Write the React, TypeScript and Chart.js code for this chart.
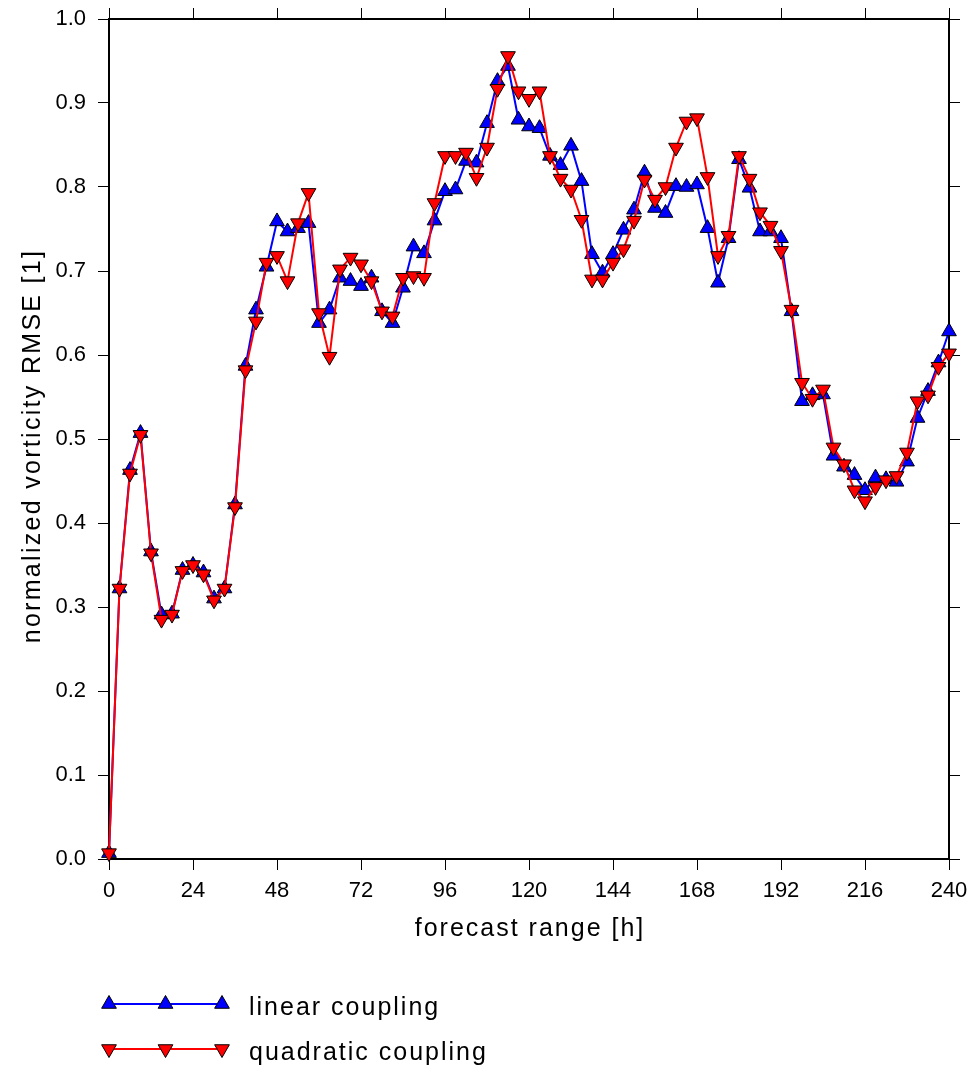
import React, { useEffect, useRef } from 'react';
import { Chart, registerables } from 'chart.js';
import { drawPoint } from 'chart.js/helpers';

Chart.register(...registerables);

const HOURS = [
  0, 3, 6, 9, 12, 15, 18, 21, 24, 27, 30, 33, 36, 39, 42, 45, 48, 51, 54, 57,
  60, 63, 66, 69, 72, 75, 78, 81, 84, 87, 90, 93, 96, 99, 102, 105, 108, 111, 114, 117,
  120, 123, 126, 129, 132, 135, 138, 141, 144, 147, 150, 153, 156, 159, 162, 165, 168, 171, 174, 177,
  180, 183, 186, 189, 192, 195, 198, 201, 204, 207, 210, 213, 216, 219, 222, 225, 228, 231, 234, 237,
  240,
];

const LINEAR = [
  0.007, 0.322, 0.463, 0.507, 0.366, 0.291, 0.292, 0.344, 0.350, 0.341, 0.310, 0.322, 0.422, 0.587, 0.654, 0.705, 0.759, 0.747, 0.751, 0.757,
  0.638, 0.654, 0.692, 0.688, 0.682, 0.692, 0.652, 0.638, 0.680, 0.729, 0.721, 0.760, 0.795, 0.797, 0.831, 0.829, 0.876, 0.926, 0.944, 0.880,
  0.872, 0.870, 0.837, 0.826, 0.849, 0.807, 0.720, 0.698, 0.720, 0.749, 0.773, 0.817, 0.775, 0.769, 0.801, 0.800, 0.803, 0.751, 0.686, 0.739,
  0.833, 0.799, 0.747, 0.747, 0.739, 0.652, 0.545, 0.552, 0.553, 0.480, 0.467, 0.457, 0.439, 0.454, 0.452, 0.449, 0.473, 0.525, 0.557, 0.591,
  0.628,
];

const QUADRATIC = [
  0.007, 0.322, 0.459, 0.505, 0.364, 0.285, 0.291, 0.343, 0.350, 0.339, 0.308, 0.322, 0.419, 0.582, 0.640, 0.710, 0.718, 0.688, 0.757, 0.793,
  0.650, 0.598, 0.702, 0.716, 0.708, 0.688, 0.652, 0.646, 0.692, 0.694, 0.692, 0.781, 0.837, 0.837, 0.841, 0.811, 0.847, 0.917, 0.956, 0.914,
  0.905, 0.914, 0.837, 0.810, 0.797, 0.761, 0.690, 0.690, 0.710, 0.726, 0.760, 0.809, 0.785, 0.800, 0.847, 0.878, 0.882, 0.812, 0.718, 0.742,
  0.837, 0.810, 0.770, 0.754, 0.724, 0.654, 0.567, 0.548, 0.559, 0.490, 0.470, 0.439, 0.426, 0.443, 0.451, 0.456, 0.484, 0.545, 0.552, 0.586,
  0.602,
];

const X_TICKS = [0, 24, 48, 72, 96, 120, 144, 168, 192, 216, 240];
const Y_TICKS = [0, 0.1, 0.2, 0.3, 0.4, 0.5, 0.6, 0.7, 0.8, 0.9, 1.0];
const X_TITLE = 'forecast range [h]';
const Y_TITLE = 'normalized vorticity RMSE [1]';
const SERIES_NAMES = ['linear coupling', 'quadratic coupling'];
const SERIES_COLORS = ['#0000ff', '#ff0000'];
const SERIES_ROTATION = [0, 180];

const FONT = '"Liberation Sans", Arial, Helvetica, sans-serif';

const zeroPad = (s: any) => {
  s.paddingTop = 0;
  s.paddingBottom = 0;
  s.paddingLeft = 0;
  s.paddingRight = 0;
};

export default function App() {
  const ref = useRef<HTMLCanvasElement | null>(null);

  useEffect(() => {
    const canvas = ref.current;
    if (!canvas) return;

    const gridOpts = {
      display: true,
      drawOnChartArea: false,
      drawTicks: true,
      tickLength: 11,
      color: '#000',
      lineWidth: 1,
    };
    const borderOpts = { display: true, color: '#000', width: 2 };

    const overlay = {
      id: 'overlay',
      afterDraw(chart: any) {
        const ctx: CanvasRenderingContext2D = chart.ctx;
        const area = chart.chartArea;
        ctx.save();
        ctx.fillStyle = '#000';
        ctx.font = `25px ${FONT}`;
        (ctx as any).letterSpacing = '2px';
        ctx.textAlign = 'center';
        ctx.textBaseline = 'alphabetic';
        ctx.fillText(X_TITLE, (area.left + area.right) / 2 + 1, 936);

        ctx.save();
        (ctx as any).letterSpacing = '2.3px';
        ctx.translate(40, 446);
        ctx.rotate(-Math.PI / 2);
        ctx.fillText(Y_TITLE, 0, 0);
        ctx.restore();

        // legend
        const lx0 = area.left;
        const lx1 = 222;
        const rows = [1004, 1049];
        SERIES_NAMES.forEach((name, i) => {
          const y = rows[i];
          ctx.strokeStyle = SERIES_COLORS[i];
          ctx.lineWidth = 2;
          ctx.beginPath();
          ctx.moveTo(lx0, y);
          ctx.lineTo(lx1, y);
          ctx.stroke();
          ctx.fillStyle = SERIES_COLORS[i];
          ctx.strokeStyle = '#000';
          ctx.lineWidth = 1;
          [lx0, (lx0 + lx1) / 2, lx1].forEach((px) => {
            drawPoint(ctx, { pointStyle: 'triangle', radius: 8.5, rotation: SERIES_ROTATION[i], borderWidth: 1 } as any, px, y);
          });
          ctx.fillStyle = '#000';
          ctx.textAlign = 'left';
          ctx.fillText(name, 249, y + 11);
        });
        ctx.restore();
      },
    };

    const makeData = (vals: number[]) => HOURS.map((h, i) => ({ x: h, y: vals[i] }));

    const chart = new Chart(canvas, {
      type: 'line',
      data: {
        datasets: [
          {
            label: SERIES_NAMES[0],
            data: makeData(LINEAR),
            borderColor: SERIES_COLORS[0],
            backgroundColor: SERIES_COLORS[0],
            borderWidth: 2,
            pointStyle: 'triangle',
            pointRadius: 8.5,
            pointRotation: 0,
            pointBackgroundColor: SERIES_COLORS[0],
            pointBorderColor: '#000',
            pointBorderWidth: 1,
            tension: 0,
            clip: false,
            order: 1,
          },
          {
            label: SERIES_NAMES[1],
            data: makeData(QUADRATIC),
            borderColor: SERIES_COLORS[1],
            backgroundColor: SERIES_COLORS[1],
            borderWidth: 2,
            pointStyle: 'triangle',
            pointRadius: 8.5,
            pointRotation: 180,
            pointBackgroundColor: SERIES_COLORS[1],
            pointBorderColor: '#000',
            pointBorderWidth: 1,
            tension: 0,
            clip: false,
            order: 0,
          },
        ],
      },
      options: {
        animation: false,
        responsive: false,
        devicePixelRatio: 1,
        events: [],
        layout: { padding: { left: 0, right: 0, top: 0, bottom: 142 } },
        plugins: {
          legend: { display: false },
          tooltip: { enabled: false },
          title: { display: false },
        },
        scales: {
          x: {
            type: 'linear',
            position: 'bottom',
            min: 0,
            max: 240,
            afterBuildTicks: (s: any) => {
              s.ticks = X_TICKS.map((v) => ({ value: v }));
            },
            ticks: {
              color: '#000',
              font: { family: FONT, size: 22 },
              padding: 8,
              maxRotation: 0,
              autoSkip: false,
              callback: (v: any) => String(v),
            },
            grid: gridOpts,
            border: borderOpts,
            afterFit: (s: any) => {
              s.height = 70;
              zeroPad(s);
            },
          },
          xTop: {
            type: 'linear',
            position: 'top',
            min: 0,
            max: 240,
            afterBuildTicks: (s: any) => {
              s.ticks = X_TICKS.map((v) => ({ value: v }));
            },
            ticks: { display: false },
            grid: gridOpts,
            border: borderOpts,
            afterFit: (s: any) => {
              s.height = 19;
              zeroPad(s);
            },
          },
          y: {
            type: 'linear',
            position: 'left',
            min: 0,
            max: 1,
            afterBuildTicks: (s: any) => {
              s.ticks = Y_TICKS.map((v) => ({ value: v }));
            },
            ticks: {
              color: '#000',
              font: { family: FONT, size: 22 },
              padding: 12,
              autoSkip: false,
              callback: (v: any) => Number(v).toFixed(1),
            },
            grid: gridOpts,
            border: borderOpts,
            afterFit: (s: any) => {
              s.width = 109;
              zeroPad(s);
            },
          },
          yRight: {
            type: 'linear',
            position: 'right',
            min: 0,
            max: 1,
            afterBuildTicks: (s: any) => {
              s.ticks = Y_TICKS.map((v) => ({ value: v }));
            },
            ticks: { display: false },
            grid: gridOpts,
            border: borderOpts,
            afterFit: (s: any) => {
              s.width = 25;
              zeroPad(s);
            },
          },
        },
      } as any,
      plugins: [overlay],
    });

    return () => {
      chart.destroy();
    };
  }, []);

  return (
    <div style={{ position: 'fixed', left: 0, top: 0, width: 974, height: 1071, background: '#fff' }}>
      <canvas ref={ref} width={974} height={1071} style={{ width: 974, height: 1071, display: 'block' }} />
    </div>
  );
}
